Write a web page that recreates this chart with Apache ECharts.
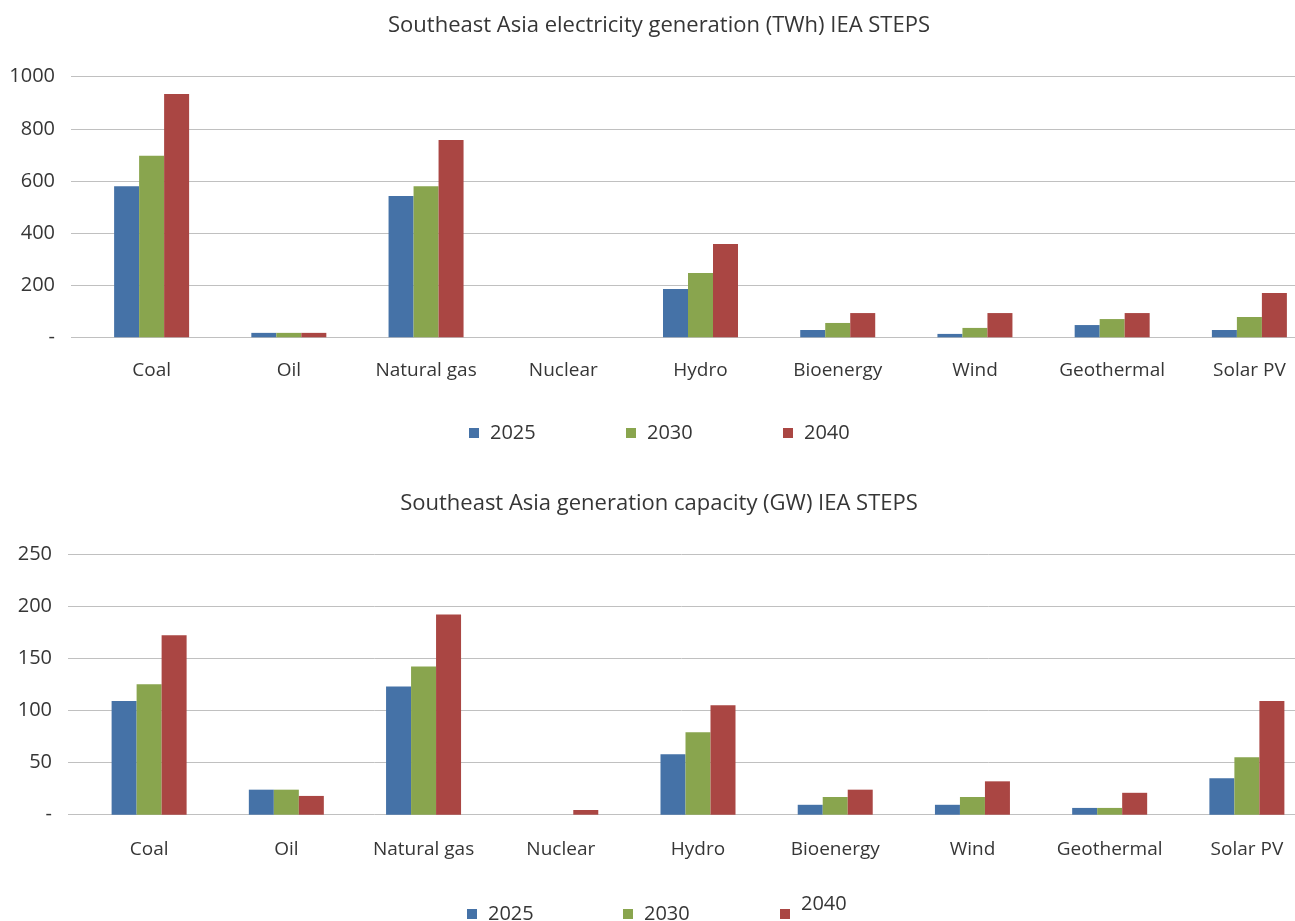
<!DOCTYPE html>
<html>
<head>
<meta charset="utf-8">
<script src="https://cdn.jsdelivr.net/npm/echarts@6/dist/echarts.min.js"></script>
<style>
  html, body { margin: 0; padding: 0; background: #fff; overflow: hidden; }
  /* The last category runs a little past the right edge of the window */
  #chart { width: 1330px; height: 921px; }
</style>
</head>
<body>
<div id="chart"></div>
<script>
// Fuel categories shared by both panels
const categories = ['Coal', 'Oil', 'Natural gas', 'Nuclear', 'Hydro', 'Bioenergy', 'Wind', 'Geothermal', 'Solar PV'];
const years = ['2025', '2030', '2040'];

// Electricity generation (TWh)
const gen2025 = [580, 17, 542, 0, 185, 28, 13, 47, 28];
const gen2030 = [697, 17, 580, 0, 247, 55, 36, 70, 78];
const gen2040 = [934, 17, 757, 0, 358, 93, 93, 93, 170];

// Generation capacity (GW)
const cap2025 = [109, 24, 123, 0, 58, 9.5, 9.5, 6.5, 35];
const cap2030 = [125, 24, 142, 0, 79, 17, 17, 6.5, 55];
const cap2040 = [172, 18, 192, 4.5, 105, 24, 32, 21, 109];

// Value-axis ticks
const genTicks = { min: 0, max: 1000, interval: 200 };
const capTicks = { min: 0, max: 250, interval: 50 };

const titles = [
  'Southeast Asia electricity generation (TWh) IEA STEPS',
  'Southeast Asia generation capacity (GW) IEA STEPS'
];

const colors = ['#4572A7', '#89A54E', '#AA4643'];
const textColor = '#363636';
const gridColor = '#C0C0C0';
const FONT = '"Open Sans", "Noto Sans", sans-serif';
const VIEW_W = 1295;

const chart = echarts.init(document.getElementById('chart'), null, { renderer: 'canvas' });

// Each panel: a background grid carrying the value axis and gridlines,
// and a bar grid carrying the category axis.
const panels = [
  { top: 76.7, height: 260.6, bgLeft: 71, barLeft: 83, labelMargin: 24, ticks: genTicks, data: [gen2025, gen2030, gen2040] },
  { top: 554, height: 260.7, bgLeft: 68, barLeft: 80.5, labelMargin: 25, ticks: capTicks, data: [cap2025, cap2030, cap2040] }
];

const grid = [], xAxis = [], yAxis = [], series = [];
panels.forEach((p) => {
  const bg = grid.length;
  grid.push({ left: p.bgLeft, width: VIEW_W - p.bgLeft, top: p.top, height: p.height });
  grid.push({ left: p.barLeft, width: 1235, top: p.top, height: p.height });

  xAxis.push({ gridIndex: bg, type: 'category', data: [''], show: false });
  xAxis.push({
    gridIndex: bg + 1, type: 'category', data: categories,
    axisLine: { show: false }, axisTick: { show: false },
    axisLabel: { color: textColor, fontSize: 19, fontFamily: FONT, margin: p.labelMargin, interval: 0 }
  });

  yAxis.push({
    gridIndex: bg, type: 'value', min: p.ticks.min, max: p.ticks.max, interval: p.ticks.interval,
    axisLine: { show: false }, axisTick: { show: false },
    axisLabel: {
      color: textColor, fontSize: 20, fontFamily: FONT, margin: 16,
      formatter: v => (v === 0 ? '-' : String(v))
    },
    splitLine: { show: true, lineStyle: { color: gridColor, width: 1 } }
  });
  yAxis.push({
    gridIndex: bg + 1, type: 'value', min: p.ticks.min, max: p.ticks.max, interval: p.ticks.interval,
    show: false, splitLine: { show: false }
  });

  years.forEach((y, k) => {
    series.push({
      name: y, type: 'bar',
      xAxisIndex: bg + 1, yAxisIndex: bg + 1,
      data: p.data[k],
      barWidth: 25, barGap: '0%',
      itemStyle: { color: colors[k] },
      animation: false
    });
  });
});

// Legends placed per item so their spacing follows the layout below each panel
const legendBase = {
  orient: 'horizontal', icon: 'rect', itemWidth: 10, itemHeight: 10,
  selectedMode: false, padding: 0,
  textStyle: { color: textColor, fontSize: 20, fontFamily: FONT, lineHeight: 20, padding: [0, 0, 0, 6] }
};
const legend = [
  Object.assign({}, legendBase, { data: ['2025'], left: 469, top: 423 }),
  Object.assign({}, legendBase, { data: ['2030'], left: 626, top: 423 }),
  Object.assign({}, legendBase, { data: ['2040'], left: 783, top: 423 }),
  Object.assign({}, legendBase, { data: ['2025'], left: 467, top: 904 }),
  Object.assign({}, legendBase, { data: ['2030'], left: 623, top: 904 }),
  // the 2040 label of the lower legend sits a line-half higher than its key
  Object.assign({}, legendBase, {
    data: ['2040'], left: 780, top: 894,
    formatter: name => '{t|' + name + '}\n{s| }',
    textStyle: Object.assign({}, legendBase.textStyle, {
      rich: {
        t: { color: textColor, fontSize: 20, fontFamily: FONT, lineHeight: 20 },
        s: { fontSize: 10, lineHeight: 20 }
      }
    })
  })
];

const titleStyle = { color: textColor, fontSize: 22, fontWeight: 'normal', fontFamily: FONT };

chart.setOption({
  backgroundColor: '#ffffff',
  animation: false,
  title: [
    { text: titles[0], left: 654, top: 10, textAlign: 'center', textStyle: titleStyle },
    { text: titles[1], left: 654, top: 488, textAlign: 'center', textStyle: titleStyle }
  ],
  legend: legend,
  grid: grid,
  xAxis: xAxis,
  yAxis: yAxis,
  series: series
});
</script>
</body>
</html>
